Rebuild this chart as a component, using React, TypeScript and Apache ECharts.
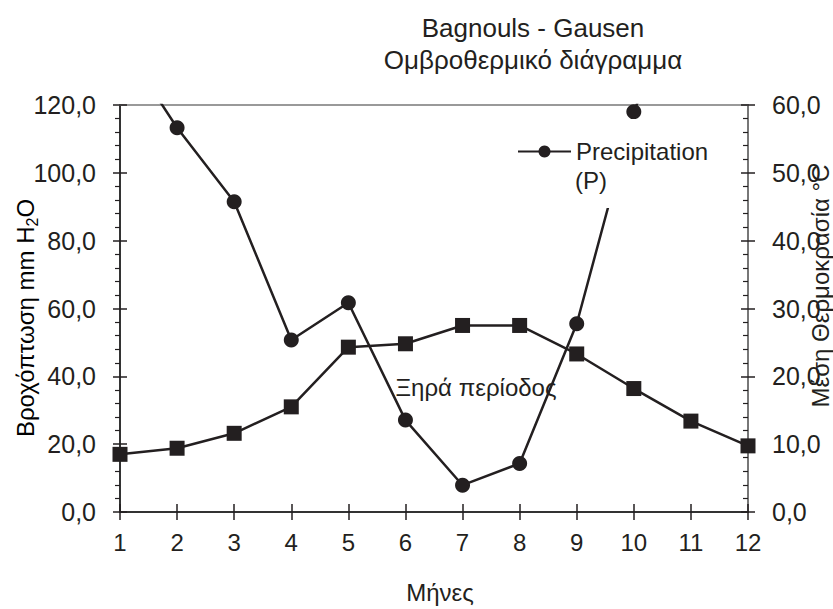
import React, { useEffect, useRef } from "react";
import * as echarts from "echarts";

const months = [1, 2, 3, 4, 5, 6, 7, 8, 9, 10, 11, 12];
const precipitation = [139, 113.3, 91.5, 50.7, 61.7, 27.1, 7.9, 14.3, 55.5, 118, 160, 140];
const temperature = [8.5, 9.4, 11.6, 15.5, 24.3, 24.8, 27.5, 27.5, 23.3, 18.2, 13.4, 9.75];

const titleLines = ["Bagnouls - Gausen", "Ομβροθερμικό διάγραμμα"];
const xName = "Μήνες";
const dryLabel = "Ξηρά περίοδος";
const precipName = "Precipitation";
const precipSuffix = "(P)";
const tempName = "Μέση Θερμοκρασία °C";

const FONT = "'Liberation Sans', Arial, sans-serif";
const INK = "#231f20";

const fmt = (v: number) => v.toFixed(1).replace(".", ",");

export default function App() {
  const ref = useRef<HTMLDivElement>(null);
  useEffect(() => {
    if (!ref.current) return;
    const chart = echarts.init(ref.current, undefined, { renderer: "svg" });
    const tickStyle = { color: INK, width: 1.5 };
    const option: any = {
      animation: false,
      backgroundColor: "#fff",
      textStyle: { fontFamily: FONT, color: INK },
      title: {
        text: titleLines.join("\n"),
        left: 528,
        top: 7,
        textAlign: "center",
        textStyle: { fontFamily: FONT, fontSize: 26, lineHeight: 32, fontWeight: "normal", color: INK },
      },
      grid: { left: 120, right: 85, top: 105, bottom: 96 },
      legend: {
        data: [precipName],
        left: 507,
        top: 119,
        padding: [18, 12, 42, 10],
        backgroundColor: "#fff",
        itemWidth: 53,
        itemHeight: 15,
        textStyle: { fontFamily: FONT, fontSize: 24, lineHeight: 29, color: INK },
      },
      xAxis: [
        {
          type: "value",
          position: "bottom",
          min: 1,
          max: 12,
          interval: 1,
          name: xName,
          nameLocation: "middle",
          nameGap: 68,
          nameTextStyle: { fontFamily: FONT, fontSize: 24, color: INK, padding: [0, 0, 0, 12] },
          axisLine: { show: true, onZero: false, lineStyle: { color: "#333", width: 2 } },
          axisTick: { show: true, length: 8, lineStyle: tickStyle },
          axisLabel: { fontFamily: FONT, fontSize: 24, color: INK, margin: 18 },
          splitLine: { show: false },
        },
        {
          type: "value",
          position: "bottom",
          min: 1,
          max: 12,
          interval: 1,
          axisLine: { show: false, onZero: false },
          axisTick: { show: true, inside: true, length: 8, lineStyle: tickStyle },
          axisLabel: { show: false },
          splitLine: { show: false },
        },
        {
          type: "value",
          position: "top",
          min: 1,
          max: 12,
          axisLine: { show: true, onZero: false, lineStyle: { color: "#999", width: 2 } },
          axisTick: { show: false },
          axisLabel: { show: false },
          splitLine: { show: false },
        },
      ],
      yAxis: [
        {
          type: "value",
          position: "left",
          min: 0,
          max: 120,
          interval: 20,
          axisLine: { show: true, lineStyle: { color: "#333", width: 2 } },
          axisTick: { show: true, length: 7, lineStyle: tickStyle },
          minorTick: { show: true, splitNumber: 5, length: 5, lineStyle: { color: INK, width: 1.2 } },
          axisLabel: { fontFamily: FONT, fontSize: 25, color: INK, margin: 24, formatter: fmt },
          splitLine: { show: false },
        },
        {
          type: "value",
          position: "right",
          min: 0,
          max: 60,
          interval: 10,
          axisLine: { show: true, lineStyle: { color: "#777", width: 2 } },
          axisTick: { show: true, length: 7, lineStyle: tickStyle },
          axisLabel: { fontFamily: FONT, fontSize: 25, color: INK, margin: 24, formatter: fmt },
          splitLine: { show: false },
        },
        {
          type: "value",
          position: "left",
          min: 0,
          max: 120,
          interval: 20,
          axisLine: { show: false },
          axisTick: { show: true, inside: true, length: 7, lineStyle: tickStyle },
          axisLabel: { show: false },
          splitLine: { show: false },
        },
        {
          type: "value",
          position: "right",
          min: 0,
          max: 60,
          interval: 10,
          axisLine: { show: false },
          axisTick: { show: true, inside: true, length: 7, lineStyle: tickStyle },
          minorTick: { show: true, splitNumber: 5, length: 5, lineStyle: { color: INK, width: 1.2 } },
          axisLabel: { show: false },
          splitLine: { show: false },
        },
      ],
      series: [
        {
          name: precipName,
          type: "line",
          xAxisIndex: 0,
          yAxisIndex: 0,
          data: months.map((m, i) => [m, precipitation[i]]),
          symbol: "circle",
          symbolSize: 15,
          clip: true,
          lineStyle: { color: INK, width: 2.5 },
          itemStyle: { color: INK },
        },
        {
          name: "Μέση Θερμοκρασία",
          type: "line",
          xAxisIndex: 0,
          yAxisIndex: 1,
          data: months.map((m, i) => [m, temperature[i]]),
          symbol: "rect",
          symbolSize: 15,
          clip: true,
          lineStyle: { color: INK, width: 2.5 },
          itemStyle: { color: INK },
        },
      ],
      graphic: [
        {
          type: "text",
          x: 575,
          y: 180,
          z: 100,
          style: { text: precipSuffix, font: `24px ${FONT}`, fill: INK, verticalAlign: "middle", align: "left" },
        },
        {
          type: "text",
          x: 476,
          y: 387,
          z: 100,
          style: { text: dryLabel, font: `24px ${FONT}`, fill: INK, verticalAlign: "middle", align: "center" },
        },
        {
          type: "text",
          x: 820,
          y: 286,
          z: 100,
          rotation: Math.PI / 2,
          style: { text: tempName, font: `24px ${FONT}`, fill: INK, verticalAlign: "middle", align: "center" },
        },
        {
          type: "text",
          x: 25,
          y: 318,
          z: 100,
          rotation: Math.PI / 2,
          style: {
            text: "{a|Βροχόπτωση mm H}{s|2}{a|O}",
            align: "center",
            verticalAlign: "middle",
            rich: {
              a: { fontFamily: FONT, fontSize: 24, lineHeight: 30, color: INK, verticalAlign: "middle" },
              s: { fontFamily: FONT, fontSize: 16, lineHeight: 16, color: INK, verticalAlign: "bottom" },
            },
          },
        },
      ],
    };
    chart.setOption(option);
    return () => chart.dispose();
  }, []);
  return (
    <div
      ref={ref}
      style={{ position: "absolute", left: 0, top: 0, width: 833, height: 609 }}
    />
  );
}
